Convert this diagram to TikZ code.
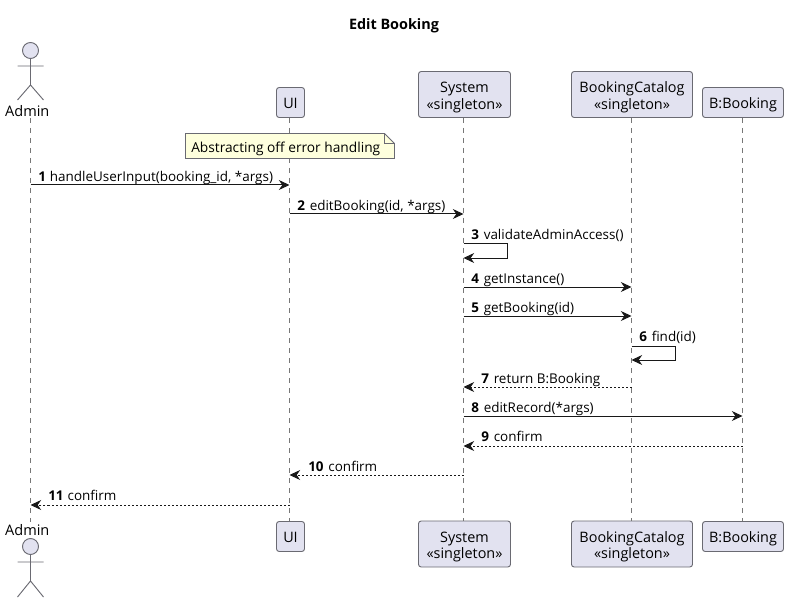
\documentclass[tikz,border=0pt]{standalone}
\usepackage{fontspec}
\setmainfont{Open Sans}
\usetikzlibrary{arrows.meta}
\definecolor{partfill}{HTML}{E2E2F0}
\definecolor{partline}{HTML}{6A6A72}
\definecolor{inkc}{HTML}{181818}
\definecolor{lifec}{HTML}{777777}
\definecolor{notefill}{HTML}{FEFFDD}
\newcommand{\oneline}[1]{\raisebox{-4.6pt}[0pt][0pt]{\makebox[0pt]{#1}}}
\newcommand{\twolines}[2]{\raisebox{1.2pt}[0pt][0pt]{\makebox[0pt]{#1}}\raisebox{-11pt}[0pt][0pt]{\makebox[0pt]{#2}}}
\tikzset{
  x=0.75pt,y=-0.75pt,
  part/.style={draw=partline,fill=partfill,rounded corners=2pt,line width=0.7pt,inner sep=0pt,font=\fontsize{10.8}{12}\selectfont,text=black},
  actlabel/.style={inner sep=0pt,minimum height=10.5pt,font=\fontsize{10.9}{12.6}\selectfont,text=black},
  actorline/.style={draw=partline,line width=0.7pt},
  actorhead/.style={draw=partline,fill=partfill,line width=0.7pt},
  lifeline/.style={draw=lifec,line width=0.6pt,dash pattern=on 3.75pt off 3.75pt},
  msg/.style={draw=inkc,line width=0.75pt,-{Stealth[length=8pt,width=7.5pt,inset=2.6pt]}},
  ret/.style={msg,dash pattern=on 1.5pt off 1.5pt},
  lbl/.style={anchor=base west,inner sep=0pt,font=\fontsize{10.1}{12}\selectfont,text=black},
  notebox/.style={draw=partline,fill=notefill,line width=0.6pt},
  notetext/.style={inner sep=0pt,font=\fontsize{10.3}{12}\selectfont,text=black},
}
\begin{document}
\begin{tikzpicture}
\useasboundingbox (0,0) rectangle (788,602);
\node[font=\bfseries\fontsize{10.8}{13}\selectfont,text=black] (title) at (394,25.5) {Edit Booking};
% participants top
\node[actlabel] (adminT) at (27.3,111) {Admin};
\node[part,minimum width=21pt,minimum height=22.5pt] (uiT) at (290.5,102.5) {\oneline{UI}};
\node[part,minimum width=69pt,minimum height=34.5pt] (sysT) at (464.5,94.5) {\twolines{System}{«singleton»}};
\node[part,minimum width=90.75pt,minimum height=34.5pt] (catT) at (632,94.5) {\twolines{BookingCatalog}{«singleton»}};
\node[part,minimum width=60.75pt,minimum height=22.5pt] (bookT) at (743,102.5) {\oneline{B:Booking}};
% participants bottom
\node[actlabel] (adminB) at (27.3,530) {Admin};
\node[part,minimum width=21pt,minimum height=22.5pt] (uiB) at (290.5,536.5) {\oneline{UI}};
\node[part,minimum width=69pt,minimum height=34.5pt] (sysB) at (464.5,544) {\twolines{System}{«singleton»}};
\node[part,minimum width=90.75pt,minimum height=34.5pt] (catB) at (632,544) {\twolines{BookingCatalog}{«singleton»}};
\node[part,minimum width=60.75pt,minimum height=22.5pt] (bookB) at (743,536.5) {\oneline{B:Booking}};
% lifelines
\coordinate (aT) at (30.5,118); \coordinate (aB) at (30.5,522);
\coordinate (uT) at (289.5,118); \coordinate (uB) at (289.5,521);
\coordinate (sT) at (463.5,118); \coordinate (sB) at (463.5,521);
\coordinate (cT) at (631.5,118); \coordinate (cB) at (631.5,521);
\coordinate (bT) at (742.5,118); \coordinate (bB) at (742.5,521);
\draw[lifeline] (aT) -- (aB);
\draw[lifeline] (uT) -- (uB);
\draw[lifeline] (sT) -- (sB);
\draw[lifeline] (cT) -- (cB);
\draw[lifeline] (bT) -- (bB);
% actors
\draw[actorhead] (30.5,50.5) circle (6pt);
\draw[actorline] (30.5,58.5) -- (30.5,85) (17.5,66) -- (43.5,66) (17.5,100) -- (30.5,85) -- (43.5,100);
\draw[actorhead] (30.5,546.5) circle (6pt);
\draw[actorline] (30.5,554.5) -- (30.5,581) (17.5,562) -- (43.5,562) (17.5,597) -- (30.5,581) -- (43.5,597);
% note
\path[notebox] (185.5,133.5) -- (384.5,133.5) -- (394.5,143.5) -- (394.5,158.5) -- (185.5,158.5) -- cycle;
\draw[notebox,fill=none] (384.5,133.5) -- (384.5,143.5) -- (394.5,143.5);
\node[notetext,anchor=base west] (note) at (191,153) {Abstracting off error handling};
% messages
\coordinate (a1) at (30.5,185); \coordinate (u1) at (289.5,185);
\draw[msg] (a1) -- (u1);
\node[lbl] (l1) at (38,181.5) {\textbf{1}\hspace{3pt}handleUserInput(booking\_id, *args)};
\coordinate (u2) at (289.5,214); \coordinate (s2) at (463.5,214);
\draw[msg] (u2) -- (s2);
\node[lbl] (l2) at (297,210.5) {\textbf{2}\hspace{3.6pt}editBooking(id, *args)};
\coordinate (s3) at (463.5,244); \coordinate (s3b) at (463.5,258);
\draw[msg] (s3) -- (507,244) -- (507,258) -- (s3b);
\node[lbl] (l3) at (471,239.5) {\textbf{3}\hspace{3.6pt}validateAdminAccess()};
\coordinate (s4) at (463.5,287); \coordinate (c4) at (631.5,287);
\draw[msg] (s4) -- (c4);
\node[lbl] (l4) at (471,283.5) {\textbf{4}\hspace{3.6pt}getInstance()};
\coordinate (s5) at (463.5,316); \coordinate (c5) at (631.5,316);
\draw[msg] (s5) -- (c5);
\node[lbl] (l5) at (471,312.5) {\textbf{5}\hspace{3.6pt}getBooking(id)};
\coordinate (c6) at (631.5,346); \coordinate (c6b) at (631.5,360);
\draw[msg] (c6) -- (675,346) -- (675,360) -- (c6b);
\node[lbl] (l6) at (639,341.5) {\textbf{6}\hspace{3.6pt}find(id)};
\coordinate (c7) at (631.5,387); \coordinate (s7) at (463.5,387);
\draw[ret] (c7) -- (s7);
\node[lbl] (l7) at (481,383.5) {\textbf{7}\hspace{3.6pt}return B:Booking};
\coordinate (s8) at (463.5,416); \coordinate (b8) at (742.5,416);
\draw[msg] (s8) -- (b8);
\node[lbl] (l8) at (471,412.5) {\textbf{8}\hspace{3.6pt}editRecord(*args)};
\coordinate (b9) at (742.5,446); \coordinate (s9) at (463.5,446);
\draw[ret] (b9) -- (s9);
\node[lbl] (l9) at (481,441.5) {\textbf{9}\hspace{3.6pt}confirm};
\coordinate (s10) at (463.5,475); \coordinate (u10) at (289.5,475);
\draw[ret] (s10) -- (u10);
\node[lbl] (l10) at (308,471.5) {\textbf{10}\hspace{3.6pt}confirm};
\coordinate (u11) at (289.5,505); \coordinate (a11) at (30.5,505);
\draw[ret] (u11) -- (a11);
\node[lbl] (l11) at (48,500.5) {\textbf{11}\hspace{3pt}confirm};
\end{tikzpicture}
\end{document}
